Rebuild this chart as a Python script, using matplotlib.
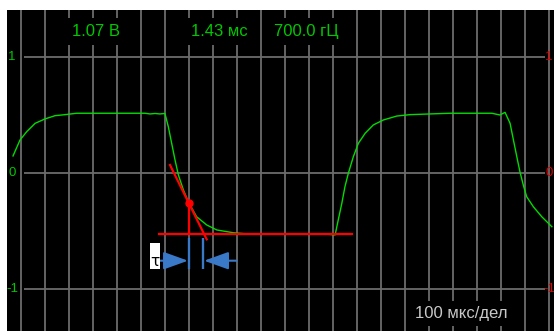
import numpy as np
import matplotlib.pyplot as plt
from matplotlib.patches import Rectangle

# время, мкс (100 мкс/дел) и напряжение, дел
t_us = [-32, -3, 25, 60, 101, 143, 185, 233, 518, 539, 560, 580, 601,
        615, 629, 643, 657, 678, 698, 733, 775, 817, 886, 955, 1247, 1310,
        1323, 1338, 1351, 1365, 1386, 1407, 1435, 1469, 1511, 1567, 1622,
        1664, 1789, 1963, 1997, 2018,
        2039, 2053, 2067, 2080, 2094, 2108, 2136, 2171, 2213]
u = [0.147, 0.284, 0.356, 0.428, 0.466, 0.494, 0.503, 0.515, 0.515, 0.509,
     0.513, 0.509, 0.513,
     0.399, 0.256, 0.112, -0.017, -0.147, -0.247, -0.377, -0.448, -0.491,
     -0.515, -0.526, -0.523, -0.534,
     -0.405, -0.261, -0.118, -0.003, 0.141, 0.256, 0.342, 0.414, 0.457,
     0.491, 0.503, 0.506, 0.515, 0.515, 0.500, 0.523,
     0.428, 0.284, 0.141, 0.011, -0.103, -0.204, -0.291, -0.377, -0.463]

# построение tau
tan_t = [622, 775]
tan_u = [0.069, -0.572]
dot_t, dot_u = 700, -0.261
low_u = -0.528
low_t = [576, 1380]
tau_end = 761
marker_u = [-0.563, -0.830]
arrow_u = -0.756

readout = ["1.07 В", "1.43 мс", "700.0 гЦ"]
readout_t = [314, 826, 1189]
scale_text = "100 мкс/дел"
levels = [1, 0, -1]

green = "#00dc00"
grid_c = "#6c6c6c"
blue = "#3a78c8"

fig = plt.figure(figsize=(5.54, 3.31), dpi=100, facecolor="white")
ax = fig.add_axes([7 / 554, 0, 547 / 554, 321 / 331])
ax.set_facecolor("black")
ax.set_xlim(-57.1, 2222)
ax.set_ylim(-1.362, 1.405)
for s in ax.spines.values():
    s.set_visible(False)
ax.set_xticks([])
ax.set_yticks([])

for x in range(0, 2300, 100):
    ax.axvline(x, color=grid_c, lw=1.3, zorder=1)
ax.hlines(levels, 14, 2184, color=grid_c, lw=1.3, zorder=1)

ax.plot(t_us, u, color=green, lw=1.0, zorder=3)

# красные линии
ax.plot(low_t, [low_u, low_u], color="red", lw=1.6, zorder=4)
ax.plot(tan_t, tan_u, color="red", lw=1.6, zorder=4)
ax.plot([dot_t, dot_t], [dot_u, low_u], color="red", lw=1.6, zorder=4)
ax.plot(dot_t, dot_u, "o", color="red", ms=5, zorder=5)

# синие метки
ax.vlines([dot_t, tau_end], marker_u[0], marker_u[1], color=blue, lw=1.7, zorder=4)
arr = dict(arrowstyle="-|>,head_length=1.0,head_width=0.36", color=blue,
           lw=1.5, mutation_scale=15, shrinkA=0, shrinkB=0)
ax.annotate("", xy=(dot_t - 3, arrow_u), xytext=(582, arrow_u), arrowprops=arr, zorder=4)
ax.annotate("", xy=(tau_end + 3, arrow_u), xytext=(900, arrow_u), arrowprops=arr, zorder=4)
ax.add_patch(Rectangle((538, -0.828), 42, 0.228, fc="white", ec="none", zorder=7))
ax.text(559, arrow_u - 0.005, "τ", color="black", fontsize=11, ha="center", va="center",
        zorder=8)

for txt, x in zip(readout, readout_t):
    ax.text(x, 1.218, txt, color="#00c800", fontsize=12, family="Liberation Sans",
            ha="center", va="center", zorder=5,
            bbox=dict(boxstyle="square,pad=0.35", fc="black", ec="none"))
ax.text(1835, -1.207, scale_text, color="#c8c8c8", fontsize=12, family="Liberation Sans",
        ha="center", va="center", zorder=5,
        bbox=dict(boxstyle="square,pad=0.3", fc="black", ec="none"))

for lv in levels:
    ax.text(-36, lv, str(lv), color="#00c800", fontsize=9.5, family="Liberation Sans",
            ha="center", va="center", zorder=5)
    ax.text(2202, lv, str(lv), color="#e00000", fontsize=9.5, family="Liberation Sans",
            ha="center", va="center", zorder=5)

fig.savefig("out.png", dpi=100, facecolor="white")
